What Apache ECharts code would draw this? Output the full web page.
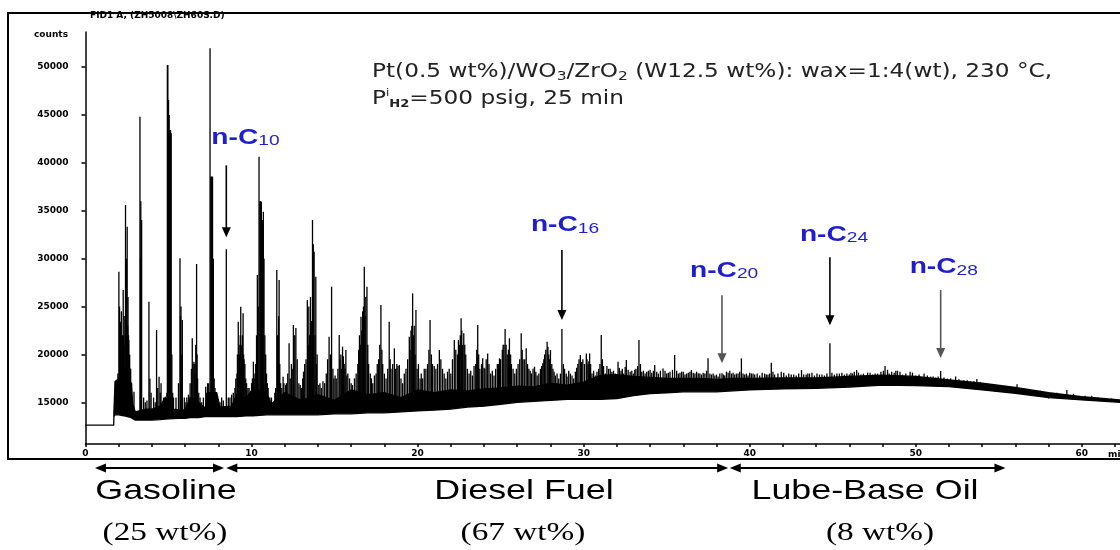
<!DOCTYPE html>
<html>
<head>
<meta charset="utf-8">
<script src="https://cdn.jsdelivr.net/npm/echarts@6/dist/echarts.min.js"></script>
<style>
  html, body { margin: 0; padding: 0; background: #fff; }
  #chart { width: 1120px; height: 550px; }
</style>
</head>
<body>
<div id="chart"></div>
<script>
// ---- GC-FID trace: retention time (min) vs detector counts ----

// unresolved hump: lower / upper edge of the dense trace
const envelopeTime = [0, 1.70, 1.71, 1.78, 2.0, 2.3, 2.75, 2.85, 3.0, 3.6,
  4.0, 4.5, 4.8, 5.3, 5.6, 6.0, 6.3, 6.8, 7.2, 7.4,
  7.9, 8.1, 8.8, 9.1, 9.7, 10.1, 10.9, 11.2, 11.6, 12,
  13, 14, 15, 16, 17, 18, 19, 20, 21, 22,
  23, 24, 25, 26, 27, 28, 29, 30, 31, 32,
  33, 34, 35, 36, 37, 38, 39, 40, 42, 44,
  46, 48, 50, 52, 54, 56, 58, 60, 62.3];
const envelopeLow = [12630, 12630, 13500, 13700, 13700, 13600, 13400, 13300, 13150, 13150,
  13150, 13200, 13250, 13300, 13330, 13330, 13400, 13400, 13500, 13500,
  13500, 13500, 13500, 13500, 13600, 13600, 13700, 13700, 13700, 13700,
  13700, 13700, 13800, 13800, 13900, 13900, 14000, 14100, 14200, 14300,
  14500, 14600, 14800, 15000, 15100, 15200, 15300, 15300, 15300, 15400,
  15700, 15900, 16000, 16100, 16100, 16100, 16200, 16300, 16400, 16460,
  16600, 16800, 16750, 16630, 16300, 15950, 15500, 15250, 15000];
const envelopeHigh = [12630, 12630, 14000, 17150, 17500, 18500, 17000, 14800, 14000, 14300,
  14300, 14600, 15500, 14300, 14200, 14200, 15500, 15000, 14400, 16000,
  16000, 14500, 14600, 15800, 15500, 16500, 16000, 14800, 15500, 16000,
  15200, 15800, 15200, 16300, 15800, 16000, 15500, 16300, 16000, 16300,
  16200, 16400, 16500, 16700, 16600, 17000, 16800, 17100, 17800, 17900,
  17700, 17600, 17500, 17500, 17500, 17400, 17500, 17500, 17550, 17550,
  17700, 17850, 17700, 17330, 17000, 16550, 16000, 15600, 15250];

// resolved peaks: apex time and apex counts
const peakTime = [
  1.80, 1.90, 2.01, 2.05, 2.11, 2.16, 2.22, 2.27, 2.33, 2.41, 2.46, 2.51, 2.56, 2.61, 2.66, 2.72, 2.92,
  3.28, 3.33, 3.38, 3.50, 3.82, 3.88, 4.10, 4.28, 4.35, 4.43, 4.55, 4.70, 4.93, 4.96, 5.00, 5.04, 5.07,
  5.12, 5.16, 5.25, 5.45, 5.69, 5.75, 5.83, 5.95, 6.20, 6.30, 6.43, 6.53, 6.60, 6.69, 6.75, 6.90,
  7.24, 7.35, 7.50, 7.55, 7.60, 7.65, 7.70, 7.80, 8.00, 8.20, 8.48, 8.60, 8.90, 9.05, 9.20, 9.28, 9.35,
  9.42, 9.49, 9.60, 9.70, 9.85, 10.00, 10.11, 10.20, 10.35, 10.45, 10.50, 10.55, 10.59, 10.65, 10.71,
  10.80, 10.90, 11.00, 11.20, 11.40, 11.52, 11.60, 11.66, 11.75, 11.90,
  12.10, 12.26, 12.40, 12.52, 12.60, 12.67, 12.75, 13.00, 13.20, 13.36, 13.45, 13.55, 13.67, 13.72,
  13.77, 13.87, 13.95, 14.20, 14.40, 14.67, 14.82, 14.90, 15.10, 15.28, 15.38, 15.48, 15.58, 15.68,
  15.80, 16.00, 16.20, 16.40, 16.50, 16.59, 16.69, 16.79, 16.88, 16.95, 17.05, 17.30, 17.50, 17.65,
  17.79, 17.90, 18.10, 18.29, 18.40, 18.60, 18.75, 18.90, 19.10, 19.30, 19.50, 19.60, 19.70, 19.80,
  19.90, 20.05,
  20.30, 20.50, 20.75, 20.90, 21.10, 21.31, 21.50, 21.70, 22.00, 22.21, 22.40, 22.52, 22.62, 22.70,
  22.78, 22.90, 23.10, 23.30, 23.50, 23.62, 23.75, 23.92, 24.05, 24.22, 24.40, 24.60, 24.80, 24.93,
  25.10, 25.20, 25.27, 25.40, 25.53, 25.65, 25.85, 26.05, 26.24, 26.35, 26.54, 26.70, 26.85, 27.04,
  27.20, 27.40, 27.54, 27.65, 27.80, 27.90, 28.00, 28.15, 28.30, 28.50, 28.69, 28.78, 28.85, 29.00,
  29.20, 29.40, 29.65, 29.80, 29.95, 30.16, 30.26, 30.36, 30.50, 30.70, 30.90, 31.06, 31.20, 31.30,
  31.50, 31.70,
  31.90, 32.07, 32.25, 32.40, 32.57, 32.80, 33.00, 33.15, 33.33, 33.50, 33.70, 33.90, 34.10, 34.28,
  34.50, 34.78, 35.00, 35.20, 35.48, 35.70, 35.90, 36.10, 36.30, 36.49, 36.70, 36.90, 37.10, 37.30,
  37.49, 37.70, 37.90, 38.10, 38.33, 38.50, 38.70, 38.90, 39.10, 39.30, 39.50, 39.70, 39.90, 40.10,
  40.30, 40.60, 40.90, 41.10, 41.30, 41.50, 41.90, 42.20, 42.50, 42.80, 43.12, 43.40, 43.60, 43.90,
  44.20, 44.50, 44.83, 45.10, 45.40, 45.70, 46.00, 46.20, 46.44, 46.70, 47.10, 47.40, 47.70, 48.15,
  48.40, 48.70, 48.90, 49.20, 49.66, 50.00, 50.50, 50.90, 51.20, 51.50, 51.90, 52.40, 52.90, 53.30,
  53.68, 54.20, 54.80, 55.40, 56.10, 56.60, 57.10, 58.00, 59.10, 60.20, 61.00, 61.80];
const peakCount = [
  17200, 17000, 28630, 25000, 23410, 24500, 22000, 26720, 24000, 35600, 30000, 33330, 26000, 21500, 20000, 18500, 16110,
  44820, 36000, 34030, 15500, 25500, 17500, 15500, 22550, 16500, 17670, 17000, 15500, 50210, 50210, 46550, 45000, 43430,
  43430, 43080, 16000, 15500, 30030, 25000, 23590, 15500, 15800, 17000, 21680, 19240, 18000, 29440, 17500, 15500,
  16630, 17000, 51960, 38550, 38550, 38550, 30000, 16500, 15300, 15500, 30970, 15500, 16000, 17500, 23410, 20000, 24980,
  19500, 24290, 19000, 17000, 16500, 17000, 19240, 17500, 28290, 40640, 36000, 36000, 35940, 34000, 34900,
  22000, 18000, 16500, 15500, 16000, 28810, 20000, 27770, 17000, 17670,
  17000, 21160, 19000, 23070, 22000, 22750, 19500, 16500, 19000, 25680, 25000, 26000, 34030, 31500,
  30720, 28110, 20000, 16500, 17000, 21850, 27070, 18500, 17500, 22030, 20000, 20810, 19000, 20460,
  18000, 17000, 17500, 19000, 22000, 23940, 24500, 29160, 26000, 27070, 19000, 17000, 18000, 19500,
  25160, 19000, 17500, 23410, 18500, 20640, 19000, 18900, 17000, 18500, 21850, 22500, 26380, 23000,
  24640, 19000,
  17500, 18500, 23590, 19000, 18500, 20460, 18500, 17500, 18000, 21500, 20000, 21000, 23770, 21000,
  22200, 20000, 18000, 17800, 19000, 23070, 18500, 19590, 18500, 20100, 18000, 17800, 19000, 19590,
  20500, 21000, 22650, 20000, 21680, 19000, 18000, 19000, 22200, 19500, 20640, 18500, 18000, 18720,
  17800, 18500, 19070, 20000, 21330, 20000, 20460, 18500, 17800, 17500, 22650, 19000, 18500, 17700,
  18000, 17500, 19000, 19940, 19500, 20100, 19000, 20100, 18000, 17800, 18500, 22030, 18800, 18000,
  18500, 18200,
  18000, 19240, 18300, 18000, 19420, 18200, 18000, 18500, 21500, 18200, 18000, 18300, 18100, 18890,
  18000, 18540, 18000, 18200, 19940, 18000, 18200, 17900, 18100, 18370, 18000, 18030, 17900, 18000,
  19590, 17900, 17800, 17700, 18030, 17800, 18100, 18000, 17900, 18000, 19590, 17900, 17800, 18000,
  17900, 17800, 18000, 17900, 19140, 17900, 18200, 17800, 17900, 17800, 18370, 17900, 18000, 17800,
  17900, 17800, 21160, 17900, 18000, 17900, 17900, 18000, 18370, 17900, 18100, 17900, 18000, 18790,
  18000, 18100, 18300, 17900, 18200, 17800, 18000, 17700, 17600, 18270, 17500, 17700, 17300, 17200,
  17430, 17000, 16800, 16700, 16880, 16300, 16300, 16000, 16300, 15700, 15500, 15300];

// minor peaks and shoulders filling the gaps between resolved peaks
const minorTime = [
  1.85, 1.95, 2.08, 2.14, 2.19, 2.25, 2.30, 2.37, 2.44, 2.49, 2.54, 2.59, 2.64, 2.69, 2.78,
  3.31, 3.36, 3.60, 3.70, 3.95, 4.20, 4.50, 4.65, 4.90, 5.10, 5.20, 5.30, 5.60, 5.72, 5.80,
  6.00, 6.10, 6.38, 6.48, 6.58, 6.64, 6.72, 6.82, 7.00, 7.10, 7.30, 7.42, 7.58, 7.62, 7.75,
  8.10, 8.30, 8.70, 8.80, 9.00, 9.12, 9.15, 9.25, 9.32, 9.38, 9.45, 9.52, 9.55, 9.65, 9.78,
  9.92, 10.05, 10.15, 10.25, 10.30, 10.40, 10.62, 10.68, 10.75, 10.85, 10.95, 11.10, 11.30, 11.45,
  11.56, 11.63, 11.70, 11.82, 11.95,
  12.05, 12.18, 12.33, 12.45, 12.85, 12.93, 13.08, 13.13, 13.28, 13.41, 13.50, 13.60, 13.82, 13.91,
  14.05, 14.12, 14.30, 14.50, 14.58, 14.75, 14.96, 15.03, 15.20, 15.33, 15.43, 15.53, 15.63, 15.74,
  15.90, 16.08, 16.30, 16.45, 16.55, 16.64, 16.74, 16.84, 17.00, 17.15, 17.22, 17.40, 17.57, 17.72,
  17.85, 18.00, 18.20, 18.35, 18.50, 18.68, 18.82, 19.00, 19.20, 19.40, 19.55, 19.65, 19.75, 19.85,
  19.97, 20.15, 20.22, 20.40, 20.60, 20.68, 20.83, 21.00, 21.20, 21.40, 21.60, 21.80, 21.90, 22.10,
  22.30, 22.46, 22.57, 22.66, 22.84, 23.00, 23.20, 23.40, 23.56, 23.68, 23.85, 24.00, 24.13, 24.30,
  24.50, 24.70, 24.87, 25.00, 25.15, 25.33, 25.47, 25.60, 25.75, 25.95, 26.15, 26.30, 26.45, 26.62,
  26.78, 26.95, 27.12, 27.30, 27.47, 27.60, 27.72, 27.85, 27.95, 28.08, 28.22, 28.40, 28.60, 28.95,
  29.10, 29.30, 29.50, 29.58, 29.72, 29.88, 30.05, 30.20, 30.31, 30.42, 30.60, 30.80, 30.98, 31.13,
  31.40, 31.60, 31.80,
  32.15, 32.33, 32.50, 32.68, 32.90, 33.08, 33.25, 33.42, 33.60, 33.80, 34.00, 34.20, 34.40, 34.62,
  34.90, 35.10, 35.35, 35.60, 35.80, 36.00, 36.20, 36.40, 36.60, 36.80, 37.00, 37.20, 37.40, 37.60,
  37.80, 38.00, 38.20, 38.42, 38.60, 38.80, 39.00, 39.20, 39.40, 39.60, 39.80, 40.00, 40.20, 40.45,
  40.75, 41.00, 41.20, 41.40, 41.70, 42.05, 42.35, 42.65, 42.95, 43.25, 43.50, 43.75, 44.05, 44.35,
  44.65, 44.95, 45.25, 45.55, 45.85, 46.10, 46.30, 46.55, 46.85, 47.25, 47.55, 47.90, 48.05, 48.30,
  48.55, 48.80, 49.05, 49.40, 49.80, 50.20, 50.70, 51.05, 51.35, 51.70, 52.10, 52.60, 53.10, 53.50,
  53.90, 54.50, 55.10, 55.70, 56.35, 56.90, 57.50, 58.50, 59.50, 60.60];
const minorCount = [
  17300, 18000, 22000, 21000, 20500, 21000, 22000, 21000, 24000, 22000, 23000, 22000, 19500, 18500, 17000,
  30000, 28000, 15000, 15200, 16000, 15000, 16000, 15000, 16000, 40000, 20000, 15500, 17000, 24000, 20000,
  15000, 15500, 18500, 19000, 19000, 21000, 20000, 16000, 15000, 15500, 16000, 17000, 38550, 38550, 17500,
  15000, 15200, 15500, 15800, 16500, 18000, 20000, 21000, 22000, 21000, 22000, 20000, 19500, 17500, 16500,
  16000, 17500, 18000, 19000, 22000, 25000, 34000, 34000, 30000, 20000, 17000, 15500, 15000, 16500,
  22000, 24000, 19000, 16500, 17000,
  16800, 18000, 17500, 18500, 17000, 16800, 17500, 18200, 19500, 21000, 22000, 23500, 22000, 19000,
  16800, 17000, 17200, 18000, 19500, 20000, 17500, 17800, 18500, 19500, 18500, 19800, 18500, 17800,
  17500, 16800, 18000, 20500, 21000, 22500, 25000, 24000, 21000, 18000, 17500, 17800, 19000, 21000,
  20500, 18000, 18500, 19500, 19000, 18500, 18800, 17500, 18000, 19500, 20500, 23000, 22000, 20000,
  18500, 17500, 18000, 18500, 19000, 20500, 20000, 18800, 19000, 19500, 18000, 18200, 18500, 19500,
  20500, 21500, 22000, 22500, 21000, 18500, 18300, 18800, 20500, 20000, 19000, 18600, 19500, 19000,
  18300, 18500, 19000, 19500, 21000, 21000, 20500, 20000, 18500, 18500, 19500, 20500, 19500, 19000,
  18300, 18500, 18200, 18000, 18800, 19500, 20500, 20800, 19500, 19000, 18200, 18000, 18000, 18000,
  18300, 17800, 18200, 18600, 19500, 19200, 19000, 19500, 19300, 19000, 18300, 18200, 19000, 19500,
  18800, 18500, 18300,
  18600, 18500, 18700, 18400, 18300, 18400, 18800, 19000, 18300, 18200, 18400, 18300, 18200, 18300,
  18300, 18100, 18400, 18300, 18100, 18200, 18000, 18200, 18100, 18200, 18000, 18100, 18300, 18000,
  18000, 17900, 18000, 17900, 18200, 18300, 18100, 18000, 18200, 18000, 18000, 18100, 18000, 18000,
  18100, 17900, 18000, 18200, 18000, 18100, 18000, 17900, 18000, 17900, 18000, 18100, 18000, 17900,
  18000, 18100, 18000, 18100, 18000, 18100, 18200, 18100, 18000, 18100, 18000, 18200, 18300, 18400,
  18200, 18300, 18200, 18000, 18100, 17900, 17800, 17700, 17700, 17600, 17500, 17400, 17300, 17200,
  17100, 16900, 16800, 16600, 16400, 16300, 16200, 16000, 15900, 15700];

// local baseline under the peaks, as steps starting at the given times
const peakBaseFrom  = [0, 2.85, 7.0, 12.0, 20.0, 26.0, 31.0, 40.0, 50.0, 53.0, 55.0, 58.0];
const peakBaseCount = [14300, 14000, 14300, 15000, 15700, 16000, 16600, 17000, 16900, 16500, 16100, 15400];

// axis ticks
const yTickValues = [15000, 20000, 25000, 30000, 35000, 40000, 45000, 50000];
const xLabelEvery = 10;

// marked n-alkanes (carbon number, retention time)
const alkaneCarbon = ['10', '16', '20', '24', '28'];
const alkaneTime = [8.48, 28.69, 38.33, 44.83, 51.5];

// product cuts along the time axis
const cutName = ['Gasoline', 'Diesel Fuel', 'Lube-Base Oil'];
const cutShare = ['(25 wt%)', '(67 wt%)', '(8 wt%)'];
const cutStart = [0.57, 8.48, 38.8];
const cutEnd = [8.34, 38.7, 55.4];

// ---- drawing ----
const chart = echarts.init(document.getElementById('chart'), null, { renderer: 'canvas' });

function baseAt(t) {
  let b = peakBaseCount[0];
  for (let i = 0; i < peakBaseFrom.length; i++) if (t >= peakBaseFrom[i]) b = peakBaseCount[i];
  return b;
}

const humpData = envelopeTime.map((t, i) => [t, envelopeLow[i], envelopeHigh[i]]);
const spikeData = peakTime.map((t, i) => [t, peakCount[i], baseAt(t)])
  .concat(minorTime.map((t, i) => [t, minorCount[i], baseAt(t)]));

const axisFont = { color: '#000', fontFamily: 'DejaVu Sans', fontWeight: 'bold', fontSize: 9 };

chart.setOption({
  animation: false,
  grid: { left: 85.5, right: 0, top: 32, bottom: 106 },
  xAxis: {
    type: 'value', min: 0, max: 62.3, interval: 2,
    axisLine: { lineStyle: { color: '#000', width: 1.5 } },
    axisTick: { length: 3, lineStyle: { color: '#000', width: 1.5 } },
    axisLabel: Object.assign({ margin: 5, showMaxLabel: false,
      formatter: v => (v % xLabelEvery === 0 ? String(v) : '') }, axisFont),
    splitLine: { show: false }
  },
  yAxis: {
    type: 'value', min: 10650, max: 53660,
    axisLine: { show: true, lineStyle: { color: '#000', width: 1.5 } },
    axisTick: { show: true, length: 4, customValues: yTickValues, lineStyle: { color: '#000', width: 1.5 } },
    axisLabel: Object.assign({ margin: 17, customValues: yTickValues, formatter: v => String(v) }, axisFont),
    splitLine: { show: false }
  },
  series: [
    {
      type: 'custom', name: 'hump', clip: true, data: humpData,
      encode: { x: 0, y: [1, 2] },
      renderItem(params, api) {
        if (params.dataIndex !== 0) return null;
        const pts = [];
        for (let i = 0; i < humpData.length; i++) pts.push(api.coord([humpData[i][0], humpData[i][2]]));
        for (let i = humpData.length - 1; i >= 0; i--) pts.push(api.coord([humpData[i][0], humpData[i][1]]));
        return { type: 'polygon', shape: { points: pts }, style: { fill: '#000', stroke: '#000', lineWidth: 1.3 } };
      }
    },
    {
      type: 'custom', name: 'peaks', clip: true, data: spikeData,
      encode: { x: 0, y: 1 },
      renderItem(params, api) {
        const t = api.value(0);
        const a = api.coord([t, api.value(2)]);
        const b = api.coord([t, api.value(1)]);
        return { type: 'line', shape: { x1: a[0], y1: a[1], x2: b[0], y2: b[1] },
                 style: { stroke: '#000', lineWidth: 1.3 } };
      }
    }
  ]
});

// ---- annotations ----
const STRETCH = 1.28;
const BLUE = '#1e1ecf';
const g = [];

// outer frame
g.push({ type: 'rect', z: 50, shape: { x: 8, y: 13, width: 1130, height: 446 },
         style: { fill: 'none', stroke: '#000', lineWidth: 2 } });
// instrument header and axis captions
g.push({ type: 'text', x: 90, y: 11, z: 40,
         style: { text: 'FID1 A, (ZH5008\\ZH60S.D)', font: 'bold 9px "DejaVu Sans"', fill: '#000', verticalAlign: 'top' } });
g.push({ type: 'text', x: 68, y: 35, z: 40,
         style: { text: 'counts', font: 'bold 9px "DejaVu Sans"', fill: '#000', align: 'right', verticalAlign: 'middle' } });
g.push({ type: 'text', x: 1108, y: 455, z: 40,
         style: { text: 'min', font: 'bold 9px "DejaVu Sans"', fill: '#000', align: 'left', verticalAlign: 'middle' } });

// reaction conditions
g.push({ type: 'text', x: 372, y: 61, z: 40, scaleX: 1.19,
  style: {
    text: 'Pt(0.5 wt%)/WO{b|3}/ZrO{b|2} (W12.5 wt%): wax=1:4(wt), 230 °C,',
    fontFamily: 'DejaVu Sans', fontSize: 19.5, lineHeight: 22, fill: '#222', verticalAlign: 'top',
    rich: { b: { fontFamily: 'DejaVu Sans', fontSize: 13, lineHeight: 10, verticalAlign: 'bottom', fill: '#222' } }
  } });
g.push({ type: 'text', x: 372, y: 88, z: 40, scaleX: 1.19,
  style: {
    text: 'P{i|i}{h|H2}=500 psig, 25 min',
    fontFamily: 'DejaVu Sans', fontSize: 19.5, lineHeight: 22, fill: '#222', verticalAlign: 'top',
    rich: {
      i: { fontFamily: 'DejaVu Sans', fontSize: 10, lineHeight: 10, verticalAlign: 'top', fill: '#222' },
      h: { fontFamily: 'DejaVu Sans', fontSize: 11, fontWeight: 'bold', lineHeight: 2, verticalAlign: 'bottom', fill: '#222' }
    }
  } });

// n-alkane callouts: arrow gap above apex, arrow length, label offsets
const callout = {
  gap:   [12, 9, 10, 18, 13],
  len:   [72, 70, 68, 68, 68],
  dx:    [-15, -31, -32, -30, -31],
  lift:  [20, 17, 17, 15, 15],
  color: ['#000', '#000', '#555', '#000', '#555']
};
alkaneCarbon.forEach((c, i) => {
  const t = alkaneTime[i];
  const apex = peakCount[peakTime.indexOf(t)];
  const p = chart.convertToPixel({ gridIndex: 0 }, [t, apex]);
  const x = p[0];
  const tip = p[1] - callout.gap[i];
  const top = tip - callout.len[i];
  g.push({ type: 'line', z: 40, shape: { x1: x, y1: top, x2: x, y2: tip - 8 },
           style: { stroke: callout.color[i], lineWidth: 1.6 } });
  g.push({ type: 'polygon', z: 40, shape: { points: [[x - 4.5, tip - 10], [x + 4.5, tip - 10], [x, tip]] },
           style: { fill: callout.color[i] } });
  g.push({ type: 'text', z: 40, x: x + callout.dx[i], y: top - callout.lift[i] - 18.7, scaleX: STRETCH,
    style: {
      text: '{m|n-C}{s|' + c + '}', verticalAlign: 'top',
      rich: {
        m: { fontFamily: 'Liberation Sans', fontWeight: 'bold', fontSize: 22, lineHeight: 22, fill: BLUE },
        s: { fontFamily: 'Liberation Sans', fontSize: 15, lineHeight: 5, verticalAlign: 'bottom', fill: BLUE }
      }
    } });
});

// product cut arrows and labels
const cutTextX = [166, 524, 865];
const cutShareX = [165, 523, 880];
const arrowY = 468;
cutName.forEach((name, i) => {
  const x1 = chart.convertToPixel({ gridIndex: 0 }, [cutStart[i], 0])[0];
  const x2 = chart.convertToPixel({ gridIndex: 0 }, [cutEnd[i], 0])[0];
  g.push({ type: 'line', z: 40, shape: { x1: x1 + 8, y1: arrowY, x2: x2 - 8, y2: arrowY },
           style: { stroke: '#000', lineWidth: 2 } });
  g.push({ type: 'polygon', z: 40, shape: { points: [[x1, arrowY], [x1 + 11, arrowY - 4.5], [x1 + 11, arrowY + 4.5]] },
           style: { fill: '#000' } });
  g.push({ type: 'polygon', z: 40, shape: { points: [[x2, arrowY], [x2 - 11, arrowY - 4.5], [x2 - 11, arrowY + 4.5]] },
           style: { fill: '#000' } });
  g.push({ type: 'text', z: 40, x: cutTextX[i], y: 505, scaleX: STRETCH,
           style: { text: name, font: '28px "Liberation Sans"', fill: '#000', align: 'center', verticalAlign: 'bottom' } });
  g.push({ type: 'text', z: 40, x: cutShareX[i], y: 546, scaleX: STRETCH,
           style: { text: cutShare[i], font: '26px "Liberation Serif"', fill: '#000', align: 'center', verticalAlign: 'bottom' } });
});

chart.setOption({ graphic: { elements: g } });
</script>
</body>
</html>
